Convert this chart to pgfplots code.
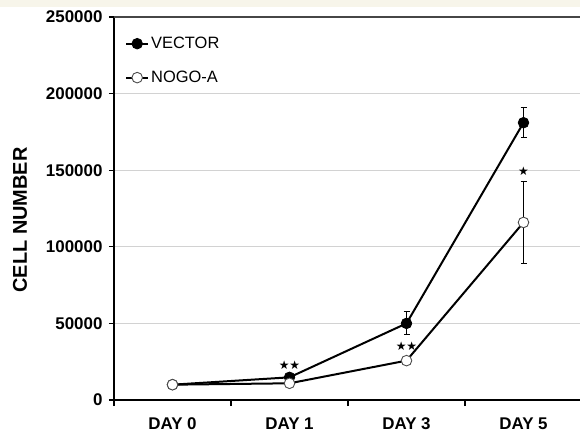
\documentclass[border=0pt]{standalone}
\usepackage{fontspec}
\setmainfont{Liberation Sans}
\newfontfamily\djv{DejaVu Sans}
\usepackage{pgfplots}
\pgfplotsset{compat=1.18}
\definecolor{cream}{RGB}{247,245,234}
\definecolor{gridgray}{RGB}{210,210,210}
\definecolor{topgray}{RGB}{70,70,70}
\begin{document}
\begin{tikzpicture}
\useasboundingbox (0,0) rectangle (580bp,438bp);
\fill[cream] (0,431bp) rectangle (580bp,438bp);
\begin{scope}
\clip (0,0) rectangle (580bp,438bp);
\begin{axis}[
  at={(114bp,38bp)}, anchor=south west, scale only axis,
  width=468bp, height=383bp,
  xmin=-0.5, xmax=3.5, ymin=0, ymax=250000,
  scaled y ticks=false,
  axis x line=bottom, axis y line=left,
  axis line style={-, line width=1.4bp, black},
  tick align=outside,
  xtick={0,1,2,3}, xticklabels={DAY 0, DAY 1, DAY 3, DAY 5},
  major x tick style={draw=none},
  minor xtick={-0.5,0.5,1.5,2.5},
  minor tick length=6bp,
  minor x tick style={line width=1.2bp, black},
  ytick={0,50000,100000,150000,200000},
  yticklabels={0,50000,100000,150000,200000},
  major tick length=5bp,
  major y tick style={line width=1.2bp, black},
  extra y ticks={250000}, extra y tick labels={250000},
  extra y tick style={ymajorgrids=true, major grid style={line width=1.4bp, topgray}, major y tick style={line width=1.2bp, black}},
  ymajorgrids, major grid style={line width=0.9bp, gridgray},
  ticklabel style={font=\fontsize{17}{19}\selectfont\bfseries},
  yticklabel style={xshift=-3bp},
  xticklabel style={yshift=-9bp},
  ylabel={CELL NUMBER},
  ylabel style={font=\fontsize{20}{22}\selectfont\bfseries, at={(axis description cs:0,0.5)}, anchor=center, yshift=94bp, xshift=-11.5bp},
  legend style={draw=none, fill=none, at={(axis description cs:0,1)}, anchor=north west,
    xshift=11bp, yshift=-18bp, font=\fontsize{16.5}{19}\selectfont, row sep=17bp, inner sep=0pt},
  legend cell align=left,
  legend image code/.code={\draw[mark repeat=2, mark phase=2, #1] plot coordinates {(0bp,0bp) (11bp,0bp) (22bp,0bp)};},
  clip=false,
]
\addplot[line width=2bp, black, mark=*, mark size=5.3bp, mark options={fill=black, line width=0.8bp},
  error bars/.cd, y dir=both, y explicit,
  error bar style={line width=0.9bp, black},
  error mark options={rotate=90, mark size=3bp, line width=0.9bp, black}]
  coordinates {(0,10000) +- (0,400) (1,14800) +- (0,1200) (2,50000) +- (0,7500) (3,181000) +- (0,9800)};
\addlegendentry{VECTOR}
\addplot[line width=2bp, black, mark=*, mark size=5.3bp, mark options={fill=white, draw=black!70, line width=0.9bp},
  error bars/.cd, y dir=both, y explicit,
  error bar style={line width=0.9bp, black},
  error mark options={rotate=90, mark size=3bp, line width=0.9bp, black}]
  coordinates {(0,10000) +- (0,400) (1,10900) +- (0,800) (2,25700) +- (0,1500) (3,115900) +- (0,27000)};
\addlegendentry{NOGO-A}
\addplot[draw=none, mark=none, forget plot, nodes near coords, point meta=explicit symbolic,
  nodes near coords style={anchor=center, inner sep=0pt, font=\djv\fontsize{12}{12}\selectfont}]
  coordinates {(1,22900)[★★] (2,34800)[★★] (3,149200)[★]};
\end{axis}
\end{scope}
\end{tikzpicture}
\end{document}
